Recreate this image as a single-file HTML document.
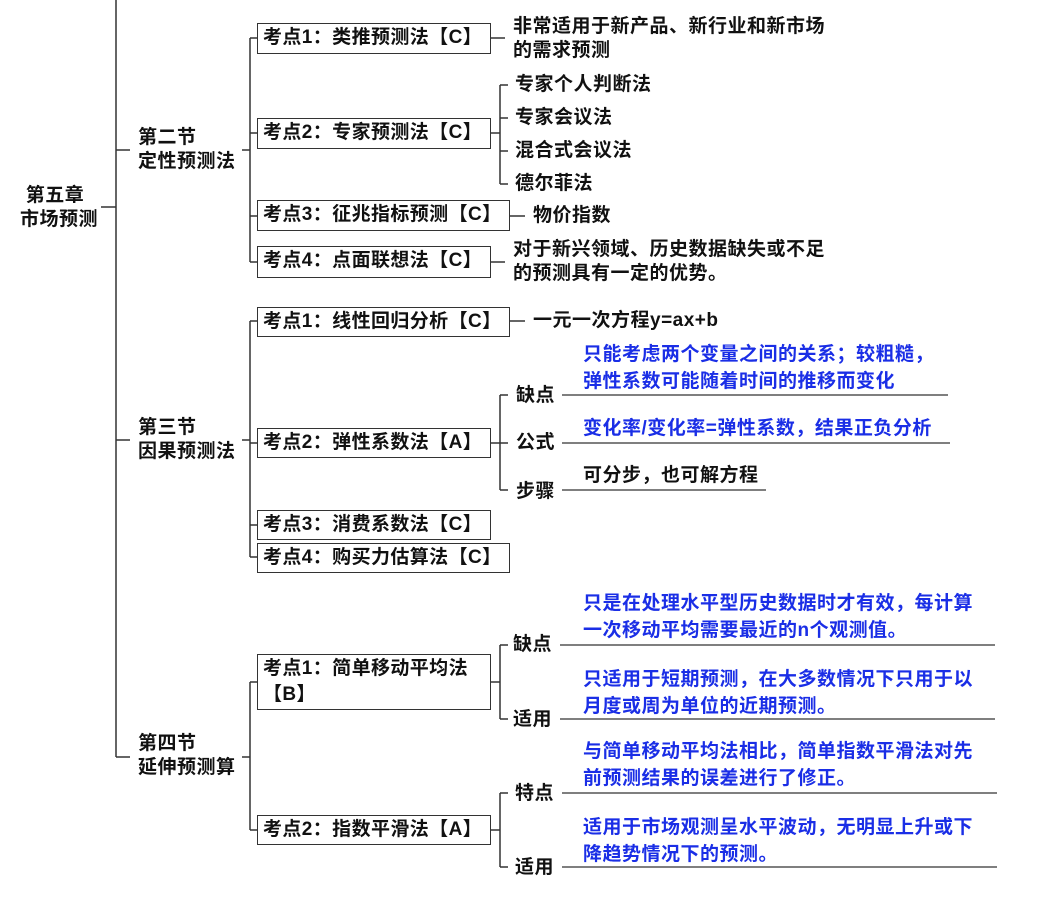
<!DOCTYPE html>
<html><head><meta charset="utf-8"><style>
body{margin:0;width:1057px;height:897px;background:#fff;position:relative;overflow:hidden;font-family:"Liberation Sans","Noto Sans CJK SC",sans-serif;}
.t{position:absolute;font-size:19px;letter-spacing:0.5px;font-weight:bold;color:#111;line-height:24px;white-space:nowrap;}
.b{color:#1a2ee6;}
.box{position:absolute;border:1.5px solid #333;box-sizing:border-box;font-size:19px;letter-spacing:0.4px;font-weight:bold;color:#111;padding-left:5px;line-height:27px;white-space:nowrap;}
svg{position:absolute;left:0;top:0;}
</style></head><body>
<svg width="1057" height="897" stroke="#333" stroke-width="1.5" fill="none">
<path d="M101 207H116M116 0V757M116 150H130M116 440H130M116 757H130"/>
<path d="M242 150H250M250 38V262M250 38H257M250 133H257M250 216H257M250 262H257"/>
<path d="M491 38H505M491 133H500M500 85V184M500 85H508M500 118H508M500 151H508M500 184H508M510 216H525M491 262H505"/>
<path d="M242 440H250M250 321V557M250 321H257M250 443H257M250 525H257M250 557H257"/>
<path d="M510 321H525M491 443H500M500 395V490M500 395H508M500 443H508M500 490H508"/>
<path d="M562 395H948M562 443H950M562 490H766" stroke-width="1.2"/>
<path d="M242 757H250M250 682V830M250 682H257M250 830H257"/>
<path d="M491 682H500M500 645V719M500 645H508M500 719H508M491 830H500M500 793V867M500 793H508M500 867H508"/>
<path d="M560 645H995M560 719H995M562 793H997M562 867H997" stroke-width="1.2"/>
</svg>
<div class="t" style="left:20px;top:184px">&nbsp;第五章<br>市场预测</div>
<div class="t" style="left:138px;top:126px">第二节<br>定性预测法</div>
<div class="t" style="left:138px;top:416px">第三节<br>因果预测法</div>
<div class="t" style="left:138px;top:732px">第四节<br>延伸预测算</div>

<div class="box" style="left:257px;top:23px;width:234px;height:31px">考点1：类推预测法【C】</div>
<div class="box" style="left:257px;top:118px;width:234px;height:31px">考点2：专家预测法【C】</div>
<div class="box" style="left:257px;top:200px;width:253px;height:31px">考点3：征兆指标预测【C】</div>
<div class="box" style="left:257px;top:246px;width:234px;height:32px">考点4：点面联想法【C】</div>
<div class="box" style="left:257px;top:307px;width:253px;height:30px">考点1：线性回归分析【C】</div>
<div class="box" style="left:257px;top:428px;width:234px;height:30px">考点2：弹性系数法【A】</div>
<div class="box" style="left:257px;top:510px;width:234px;height:30px">考点3：消费系数法【C】</div>
<div class="box" style="left:257px;top:543px;width:253px;height:30px">考点4：购买力估算法【C】</div>
<div class="box" style="left:257px;top:654px;width:234px;height:56px;line-height:26px;padding-top:1px">考点1：简单移动平均法<br>【B】</div>
<div class="box" style="left:257px;top:815px;width:234px;height:30px">考点2：指数平滑法【A】</div>

<div class="t" style="left:513px;top:15px">非常适用于新产品、新行业和新市场<br>的需求预测</div>
<div class="t" style="left:515px;top:73px">专家个人判断法</div>
<div class="t" style="left:515px;top:106px">专家会议法</div>
<div class="t" style="left:515px;top:139px">混合式会议法</div>
<div class="t" style="left:515px;top:172px">德尔菲法</div>
<div class="t" style="left:533px;top:204px">物价指数</div>
<div class="t" style="left:513px;top:238px">对于新兴领域、历史数据缺失或不足<br>的预测具有一定的优势。</div>
<div class="t" style="left:533px;top:309px">一元一次方程y=ax+b</div>
<div class="t" style="left:516px;top:384px">缺点</div>
<div class="t" style="left:516px;top:431px">公式</div>
<div class="t" style="left:516px;top:480px">步骤</div>
<div class="t b" style="left:583px;top:341px;line-height:27px">只能考虑两个变量之间的关系；较粗糙，<br>弹性系数可能随着时间的推移而变化</div>
<div class="t b" style="left:583px;top:417px">变化率/变化率=弹性系数，结果正负分析</div>
<div class="t" style="left:583px;top:464px">可分步，也可解方程</div>
<div class="t" style="left:513px;top:633px">缺点</div>
<div class="t" style="left:513px;top:708px">适用</div>
<div class="t b" style="left:583px;top:590px;line-height:27px">只是在处理水平型历史数据时才有效，每计算<br>一次移动平均需要最近的n个观测值。</div>
<div class="t b" style="left:583px;top:666px;line-height:27px">只适用于短期预测，在大多数情况下只用于以<br>月度或周为单位的近期预测。</div>
<div class="t" style="left:515px;top:782px">特点</div>
<div class="t" style="left:515px;top:856px">适用</div>
<div class="t b" style="left:583px;top:738px;line-height:27px">与简单移动平均法相比，简单指数平滑法对先<br>前预测结果的误差进行了修正。</div>
<div class="t b" style="left:583px;top:814px;line-height:27px">适用于市场观测呈水平波动，无明显上升或下<br>降趋势情况下的预测。</div>
</body></html>
